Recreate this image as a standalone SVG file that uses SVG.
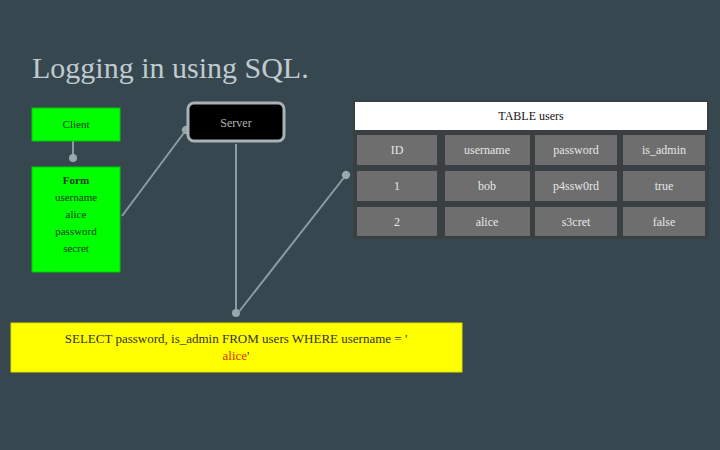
<svg xmlns="http://www.w3.org/2000/svg" width="720" height="450" viewBox="0 0 720 450">
<defs>
<marker id="dot" viewBox="0 0 10 10" refX="5" refY="5" markerWidth="5" markerHeight="5" orient="auto">
<circle cx="5" cy="5" r="4" fill="#9aa8ae"/>
</marker>
<style>
.t{font-family:"Liberation Serif","Times New Roman",serif}
.g{fill:#00ff00;stroke:#00cc00;stroke-width:1}
.gt{font-size:11px;fill:#1a3a1a;text-anchor:middle}
.cell{fill:#6e6e6e}
.ct{font-size:12px;fill:#e6e6e6;text-anchor:middle}
.conn{stroke:#8c9ca4;stroke-width:2;fill:none;marker-end:url(#dot)}
</style>
</defs>
<rect width="720" height="450" fill="#37474f"/>
<text class="t" x="32" y="78" font-size="30" fill="#c0cbcf">Logging in using SQL.</text>

<g id="connectors">
<line class="conn" x1="73" y1="141" x2="73" y2="158"/>
<line class="conn" x1="122" y1="216" x2="186" y2="130"/>
<line class="conn" x1="236" y1="144" x2="236" y2="313"/>
<line class="conn" x1="238" y1="313" x2="346" y2="175"/>
</g>

<g id="client">
<rect class="g" x="32" y="108" width="88" height="33"/>
<text class="t gt" x="76" y="128">Client</text>
</g>

<g id="form">
<rect class="g" x="32" y="167" width="88" height="105"/>
<text class="t gt" x="76" y="184" font-weight="bold">Form</text>
<text class="t gt" x="76" y="201">username</text>
<text class="t gt" x="76" y="218">alice</text>
<text class="t gt" x="76" y="235">password</text>
<text class="t gt" x="76" y="252">secret</text>
</g>

<g id="server">
<rect x="188" y="103" width="96" height="38" rx="6" fill="#000" stroke="#a9b3b7" stroke-width="3"/>
<text class="t" x="236" y="127" font-size="12" fill="#b0b0b0" text-anchor="middle">Server</text>
</g>

<g id="table">
<rect x="353" y="100" width="356" height="139" fill="#3a3f42"/>
<rect x="355" y="102" width="352" height="28" fill="#ffffff"/>
<text class="t" x="531" y="120" font-size="12" fill="#111" text-anchor="middle">TABLE users</text>
<rect class="cell" x="357" y="135" width="80" height="30"/>
<rect class="cell" x="445" y="135" width="85" height="30"/>
<rect class="cell" x="535" y="135" width="82" height="30"/>
<rect class="cell" x="623" y="135" width="82" height="30"/>
<rect class="cell" x="357" y="171" width="80" height="30"/>
<rect class="cell" x="445" y="171" width="85" height="30"/>
<rect class="cell" x="535" y="171" width="82" height="30"/>
<rect class="cell" x="623" y="171" width="82" height="30"/>
<rect class="cell" x="357" y="207" width="80" height="29"/>
<rect class="cell" x="445" y="207" width="85" height="29"/>
<rect class="cell" x="535" y="207" width="82" height="29"/>
<rect class="cell" x="623" y="207" width="82" height="29"/>
<text class="t ct" x="397" y="154">ID</text>
<text class="t ct" x="487" y="154">username</text>
<text class="t ct" x="576" y="154">password</text>
<text class="t ct" x="664" y="154">is_admin</text>
<text class="t ct" x="397" y="190">1</text>
<text class="t ct" x="487" y="190">bob</text>
<text class="t ct" x="576" y="190">p4ssw0rd</text>
<text class="t ct" x="664" y="190">true</text>
<text class="t ct" x="397" y="226">2</text>
<text class="t ct" x="487" y="226">alice</text>
<text class="t ct" x="576" y="226">s3cret</text>
<text class="t ct" x="664" y="226">false</text>
</g>

<g id="query">
<rect x="11" y="323" width="451" height="49" fill="#ffff00" stroke="#e0e000" stroke-width="1"/>
<text class="t" x="236" y="343" font-size="13" fill="#333" text-anchor="middle">SELECT password, is_admin FROM users WHERE username = '</text>
<text class="t" x="236" y="360" font-size="13" fill="#333" text-anchor="middle"><tspan fill="#e03000">alice</tspan>'</text>
</g>
</svg>
